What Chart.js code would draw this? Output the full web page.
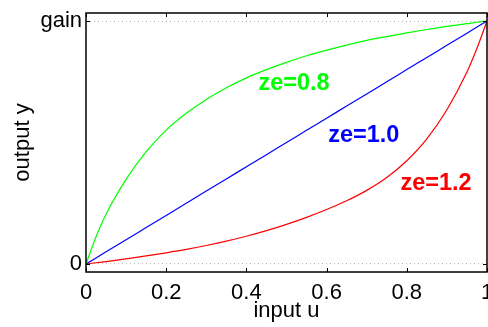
<!DOCTYPE html>
<html>
<head>
<meta charset="utf-8">
<script src="https://cdn.jsdelivr.net/npm/chart.js@4.4.1/dist/chart.umd.min.js"></script>
<style>
  html, body { margin: 0; padding: 0; background: #fff; overflow: hidden; }
  #wrap { width: 488px; height: 327px; }
</style>
</head>
<body>
<div id="wrap"><canvas id="chart" width="488" height="327"></canvas></div>
<script>
// input u samples and the three output curves
const inputU = [0, 0.025, 0.05, 0.1, 0.15, 0.2, 0.25, 0.3, 0.35, 0.4, 0.45, 0.5,
                0.55, 0.6, 0.65, 0.7, 0.75, 0.8, 0.85, 0.9, 0.95, 0.975, 1];
const ze08 = [0, 0.112, 0.205, 0.348, 0.462, 0.551, 0.62, 0.677, 0.725, 0.766, 0.8, 0.83,
              0.857, 0.88, 0.901, 0.92, 0.936, 0.951, 0.965, 0.978, 0.989, 0.995, 1];
const ze10 = [0, 0.025, 0.05, 0.1, 0.15, 0.2, 0.25, 0.3, 0.35, 0.4, 0.45, 0.5,
              0.55, 0.6, 0.65, 0.7, 0.75, 0.8, 0.85, 0.9, 0.95, 0.975, 1];
const ze12 = [0, 0.005, 0.01, 0.021, 0.033, 0.046, 0.06, 0.076, 0.094, 0.114, 0.137, 0.163,
              0.192, 0.224, 0.26, 0.303, 0.356, 0.425, 0.515, 0.635, 0.79, 0.888, 1];

const seriesNames = ['ze=0.8', 'ze=1.0', 'ze=1.2'];
const xTicks = [0, 0.2, 0.4, 0.6, 0.8, 1];
const xTickLabels = ['0', '0.2', '0.4', '0.6', '0.8', '1'];
const yTicks = [0, 1];
const yTickLabels = ['0', 'gain'];

const colors = ['#00ff00', '#0000ff', '#ff0000'];
// curve labels: left edge / baseline in data units
const labelSpots = [[0.43, 0.716], [0.604, 0.502], [0.784, 0.305]];

const family = '"Liberation Sans", Arial, Helvetica, sans-serif';
Chart.defaults.font.family = family;
Chart.defaults.color = '#000';

const toPoints = (ys) => ys.map((v, i) => ({ x: inputU[i], y: v }));

// box, inward ticks and curve labels, matlab style
const matlabBox = {
  id: 'matlabBox',
  afterDraw(chart) {
    const { ctx, chartArea: a, scales: { x, y } } = chart;
    ctx.save();
    ctx.strokeStyle = '#000';
    ctx.lineWidth = 1.5;
    ctx.strokeRect(a.left, a.top, a.right - a.left, a.bottom - a.top);

    ctx.lineWidth = 1;
    ctx.beginPath();
    xTicks.forEach(v => {
      const px = Math.round(x.getPixelForValue(v)) + 0.5;
      ctx.moveTo(px, a.bottom); ctx.lineTo(px, a.bottom - 4);
      ctx.moveTo(px, a.top); ctx.lineTo(px, a.top + 4);
    });
    yTicks.forEach(v => {
      const py = Math.round(y.getPixelForValue(v)) + 0.5;
      ctx.moveTo(a.left, py); ctx.lineTo(a.left + 4, py);
      ctx.moveTo(a.right, py); ctx.lineTo(a.right - 4, py);
    });
    ctx.stroke();

    ctx.font = 'bold 23.5px ' + family;
    ctx.textBaseline = 'alphabetic';
    ctx.textAlign = 'left';
    labelSpots.forEach((p, i) => {
      ctx.fillStyle = colors[i];
      ctx.fillText(seriesNames[i], x.getPixelForValue(p[0]), y.getPixelForValue(p[1]));
    });
    ctx.restore();
  }
};

new Chart(document.getElementById('chart'), {
  type: 'line',
  data: {
    datasets: [ze08, ze10, ze12].map((ys, i) => ({
      label: seriesNames[i],
      data: toPoints(ys),
      borderColor: colors[i],
      borderWidth: 1.2,
      pointRadius: 0,
      fill: false,
      cubicInterpolationMode: 'monotone'
    }))
  },
  options: {
    responsive: false,
    animation: false,
    layout: { padding: { top: 13, right: 1, left: 0, bottom: 0 } },
    plugins: {
      legend: { display: false },
      tooltip: { enabled: false }
    },
    scales: {
      x: {
        type: 'linear',
        min: 0,
        max: 1,
        afterBuildTicks: s => { s.ticks = xTicks.map(v => ({ value: v })); },
        afterFit: s => { s.height = 55; s.paddingLeft = 0; s.paddingRight = 0; },
        ticks: {
          callback: (v, i) => xTickLabels[i],
          font: { size: 22 },
          color: '#000',
          padding: 8,
          maxRotation: 0,
          autoSkip: false
        },
        grid: { display: false, drawTicks: false },
        border: { display: false },
        title: {
          display: true,
          text: 'input u',
          font: { size: 22 },
          color: '#000',
          padding: { top: 0, bottom: 3 }
        }
      },
      y: {
        type: 'linear',
        min: -0.033,
        max: 1.033,
        afterBuildTicks: s => { s.ticks = yTicks.map(v => ({ value: v })); },
        afterFit: s => { s.width = 86; s.paddingTop = 0; s.paddingBottom = 0; },
        ticks: {
          callback: (v, i) => yTickLabels[i],
          font: { size: 22 },
          color: '#000',
          padding: 4
        },
        grid: { color: '#b8b8b8', lineWidth: 1, drawTicks: false },
        border: { display: false, dash: [1, 3] },
        title: {
          display: true,
          text: 'output y',
          font: { size: 22 },
          color: '#000',
          padding: { top: 10, bottom: 0 }
        }
      }
    }
  },
  plugins: [matlabBox]
});
</script>
</body>
</html>
